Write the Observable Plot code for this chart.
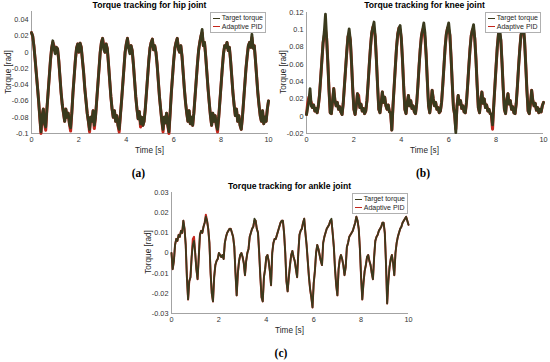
<!DOCTYPE html>
<html><head><meta charset="utf-8">
<script src="https://cdn.jsdelivr.net/npm/d3@7"></script>
<script src="https://cdn.jsdelivr.net/npm/@observablehq/plot@0.6"></script>
<style>
body{margin:0;background:#fff;}
#root{position:relative;width:550px;height:362px;overflow:hidden;font-family:"Liberation Sans",Arial,sans-serif;color:#262626;background:#fff;}
.panel{position:absolute;}
.title{position:absolute;font-weight:bold;font-size:8.6px;white-space:nowrap;transform:translate(-50%,-50%);color:#000;}
.xlab{position:absolute;font-size:8.2px;white-space:nowrap;transform:translate(-50%,-50%);}
.ylab{position:absolute;font-size:8.2px;white-space:nowrap;transform:translate(-50%,-50%) rotate(-90deg);}
.cap{position:absolute;font-family:"Liberation Serif","Times New Roman",serif;font-weight:bold;font-size:11.5px;transform:translate(-50%,-50%);color:#000;}
.legend{position:absolute;border:0.8px solid #b0b0b0;background:#fff;font-size:7px;line-height:8.6px;padding:1px 2px;white-space:nowrap;}
.legend .sw{display:inline-block;width:7px;border-top:1.3px solid;vertical-align:middle;margin-right:1.5px;}
</style></head>
<body>
<div id="root"></div>
<script>
// ---- data ----
const time = [
0,0.05,0.1,0.15,0.2,0.25,0.3,0.35,0.4,0.45,0.5,0.55,0.6,0.65,0.7,0.75,0.8,0.85,0.9,0.95,
1,1.05,1.1,1.15,1.2,1.25,1.3,1.35,1.4,1.45,1.5,1.55,1.6,1.65,1.7,1.75,1.8,1.85,1.9,1.95,
2,2.05,2.1,2.15,2.2,2.25,2.3,2.35,2.4,2.45,2.5,2.55,2.6,2.65,2.7,2.75,2.8,2.85,2.9,2.95,
3,3.05,3.1,3.15,3.2,3.25,3.3,3.35,3.4,3.45,3.5,3.55,3.6,3.65,3.7,3.75,3.8,3.85,3.9,3.95,
4,4.05,4.1,4.15,4.2,4.25,4.3,4.35,4.4,4.45,4.5,4.55,4.6,4.65,4.7,4.75,4.8,4.85,4.9,4.95,
5,5.05,5.1,5.15,5.2,5.25,5.3,5.35,5.4,5.45,5.5,5.55,5.6,5.65,5.7,5.75,5.8,5.85,5.9,5.95,
6,6.05,6.1,6.15,6.2,6.25,6.3,6.35,6.4,6.45,6.5,6.55,6.6,6.65,6.7,6.75,6.8,6.85,6.9,6.95,
7,7.05,7.1,7.15,7.2,7.25,7.3,7.35,7.4,7.45,7.5,7.55,7.6,7.65,7.7,7.75,7.8,7.85,7.9,7.95,
8,8.05,8.1,8.15,8.2,8.25,8.3,8.35,8.4,8.45,8.5,8.55,8.6,8.65,8.7,8.75,8.8,8.85,8.9,8.95,
9,9.05,9.1,9.15,9.2,9.25,9.3,9.35,9.4,9.45,9.5,9.55,9.6,9.65,9.7,9.75,9.8,9.85,9.9,9.95,
10];

const hipTarget = [
0.024,0.02,0.008,-0.008,-0.025,-0.042,-0.06,-0.08,-0.098,-0.078,-0.07,-0.088,-0.092,-0.07,-0.05,-0.03,-0.01,0.005,0.014,0.004,
-0.002,0.006,0.004,-0.01,-0.03,-0.05,-0.065,-0.075,-0.085,-0.07,-0.08,-0.075,-0.088,-0.093,-0.075,-0.05,-0.03,-0.01,0.005,0.01,
0.0,0.011,0.006,-0.01,-0.025,-0.045,-0.06,-0.075,-0.085,-0.095,-0.08,-0.085,-0.072,-0.09,-0.08,-0.06,-0.04,-0.02,0.0,0.012,
0.017,0.003,0.0,0.01,0.004,-0.015,-0.035,-0.055,-0.07,-0.08,-0.072,-0.085,-0.078,-0.09,-0.095,-0.078,-0.06,-0.04,-0.02,0.0,
0.01,0.017,0.005,-0.002,0.008,0.002,-0.015,-0.035,-0.055,-0.07,-0.082,-0.073,-0.088,-0.08,-0.09,-0.085,-0.07,-0.05,-0.03,-0.01,
0.005,0.012,0.016,0.003,0.008,0.0,-0.015,-0.035,-0.055,-0.07,-0.085,-0.095,-0.08,-0.087,-0.075,-0.09,-0.098,-0.075,-0.05,-0.03,
-0.01,0.005,0.012,0.017,0.004,0.0,0.008,-0.005,-0.025,-0.045,-0.062,-0.075,-0.085,-0.072,-0.088,-0.08,-0.09,-0.075,-0.055,-0.035,
-0.015,0.002,0.012,0.02,0.028,0.008,0.012,-0.005,-0.025,-0.045,-0.062,-0.078,-0.09,-0.075,-0.085,-0.078,-0.09,-0.095,-0.08,-0.06,
-0.04,-0.02,-0.002,0.008,0.006,0.012,0.002,0.006,-0.01,-0.03,-0.05,-0.065,-0.078,-0.07,-0.085,-0.078,-0.09,-0.095,-0.08,-0.06,
-0.04,-0.02,-0.005,0.008,0.012,0.006,0.022,0.005,0.008,-0.01,-0.03,-0.05,-0.065,-0.078,-0.085,-0.072,-0.088,-0.08,-0.085,-0.07,
-0.06];
const hipPID = [
0.024,0.02,0.008,-0.008,-0.025,-0.042,-0.06,-0.08,-0.1,-0.078,-0.07,-0.088,-0.096,-0.07,-0.05,-0.03,-0.01,0.005,0.012,0.008,
0.002,0.006,0.004,-0.01,-0.03,-0.05,-0.065,-0.075,-0.085,-0.07,-0.08,-0.075,-0.088,-0.097,-0.075,-0.05,-0.03,-0.01,0.005,0.01,
0.0,0.011,0.006,-0.01,-0.025,-0.045,-0.06,-0.075,-0.085,-0.098,-0.08,-0.085,-0.072,-0.094,-0.08,-0.06,-0.04,-0.02,0.0,0.012,
0.017,0.008,0.0,0.01,0.004,-0.015,-0.035,-0.055,-0.07,-0.08,-0.072,-0.085,-0.078,-0.09,-0.098,-0.078,-0.06,-0.04,-0.02,0.0,
0.01,0.017,0.005,0.004,0.008,0.002,-0.015,-0.035,-0.055,-0.07,-0.082,-0.073,-0.092,-0.08,-0.09,-0.085,-0.07,-0.05,-0.03,-0.01,
0.005,0.012,0.016,0.003,0.008,0.0,-0.015,-0.035,-0.055,-0.07,-0.085,-0.098,-0.08,-0.087,-0.075,-0.09,-0.1,-0.075,-0.05,-0.03,
-0.01,0.005,0.012,0.017,0.004,0.0,0.008,-0.005,-0.025,-0.045,-0.062,-0.075,-0.085,-0.072,-0.088,-0.08,-0.09,-0.075,-0.055,-0.035,
-0.015,0.002,0.012,0.02,0.024,0.008,0.012,-0.005,-0.025,-0.045,-0.062,-0.078,-0.09,-0.075,-0.085,-0.078,-0.09,-0.098,-0.08,-0.06,
-0.04,-0.02,-0.002,0.008,0.006,0.012,0.002,0.006,-0.01,-0.03,-0.05,-0.065,-0.078,-0.07,-0.085,-0.078,-0.09,-0.095,-0.08,-0.06,
-0.04,-0.02,-0.005,0.008,0.012,0.006,0.018,0.005,0.008,-0.01,-0.03,-0.05,-0.065,-0.078,-0.085,-0.072,-0.088,-0.08,-0.085,-0.07,
-0.06];

const kneeTarget = [
0.002,0.01,0.018,0.032,0.012,0.01,0.013,0.006,0.009,0.004,0.012,0.025,0.045,0.065,0.085,0.098,0.118,0.09,0.062,0.03,
0.004,0.003,0.018,0.032,0.018,0.012,0.016,0.008,0.011,0.005,0.002,0.015,0.035,0.055,0.075,0.092,0.101,0.088,0.062,0.032,
0.008,0.002,0.012,0.026,0.02,0.01,0.014,0.006,0.009,0.003,0.006,0.018,0.038,0.06,0.08,0.096,0.103,0.109,0.092,0.065,
0.035,0.008,0.004,0.015,0.028,0.016,0.022,0.012,0.008,0.013,0.005,0.004,-0.016,0.012,0.035,0.058,0.08,0.095,0.102,0.105,
0.09,0.065,0.035,0.008,0.003,0.016,0.024,0.012,0.018,0.009,0.012,0.005,0.003,0.015,0.035,0.058,0.078,0.093,0.1,0.108,
0.096,0.07,0.04,0.012,0.004,0.015,0.03,0.02,0.012,0.016,0.008,0.01,0.004,0.006,0.016,0.036,0.058,0.08,0.095,0.102,
0.108,0.094,0.068,0.038,0.01,0.002,-0.019,0.012,0.024,0.014,0.018,0.009,0.012,0.005,0.004,0.016,0.036,0.058,0.078,0.093,
0.1,0.106,0.09,0.066,0.036,0.01,0.004,0.018,0.028,0.015,0.02,0.01,0.013,0.006,0.008,0.003,0.002,-0.01,0.012,0.035,
0.058,0.08,0.095,0.102,0.088,0.062,0.032,0.008,0.003,0.018,0.026,0.014,0.018,0.008,0.011,0.004,0.003,0.015,0.035,0.058,
0.078,0.094,0.1,0.106,0.088,0.06,0.03,0.006,0.003,0.015,0.03,0.018,0.012,0.015,0.007,0.01,0.004,0.008,0.005,0.012,
0.016];
const kneePID = [
0.002,0.015,0.022,0.02,0.016,0.01,0.013,0.006,0.009,0.004,0.012,0.025,0.045,0.065,0.085,0.093,0.1,0.09,0.062,0.03,
0.004,0.003,0.018,0.032,0.018,0.012,0.016,0.008,0.011,0.005,0.002,0.015,0.035,0.055,0.075,0.092,0.095,0.088,0.062,0.032,
0.008,0.002,0.012,0.026,0.024,0.01,0.014,0.006,0.009,0.003,0.006,0.018,0.038,0.06,0.08,0.096,0.103,0.1,0.092,0.065,
0.035,0.008,0.004,0.015,0.028,0.016,0.022,0.012,0.008,0.013,0.005,0.004,-0.016,0.012,0.035,0.058,0.08,0.095,0.102,0.1,
0.09,0.065,0.035,0.008,0.003,0.016,0.024,0.012,0.018,0.009,0.012,0.005,0.003,0.015,0.035,0.058,0.078,0.093,0.1,0.1,
0.09,0.07,0.04,0.012,0.004,0.015,0.03,0.02,0.012,0.016,0.008,0.01,0.004,0.006,0.016,0.036,0.058,0.08,0.095,0.102,
0.1,0.094,0.068,0.038,0.01,0.002,-0.015,0.012,0.024,0.014,0.018,0.009,0.012,0.005,0.004,0.016,0.036,0.058,0.078,0.093,
0.1,0.1,0.09,0.066,0.036,0.01,0.004,0.018,0.028,0.015,0.02,0.01,0.013,0.006,0.008,0.003,0.002,-0.015,0.012,0.035,
0.058,0.08,0.095,0.095,0.088,0.062,0.032,0.008,0.003,0.018,0.026,0.014,0.018,0.008,0.011,0.004,0.003,0.015,0.035,0.058,
0.078,0.094,0.1,0.1,0.088,0.06,0.03,0.006,0.003,0.015,0.03,0.018,0.012,0.015,0.007,0.01,0.004,0.008,0.005,0.012,
0.016];

const ankleTarget = [
0.0,-0.008,-0.004,0.004,0.007,0.006,0.009,0.008,0.011,0.01,0.016,0.012,0.004,-0.012,-0.023,-0.014,-0.012,-0.002,0.004,0.006,
0.0,-0.008,-0.013,-0.002,0.009,0.011,0.01,0.013,0.015,0.018,0.016,0.012,0.005,-0.01,-0.02,-0.024,-0.012,-0.006,-0.004,-0.003,
0.0,-0.001,-0.002,-0.001,-0.003,0.005,0.008,0.01,0.011,0.012,0.012,0.01,0.008,0.003,-0.01,-0.021,-0.01,-0.004,-0.001,0.0,
-0.002,-0.005,-0.011,-0.004,0.0,0.002,0.008,0.01,0.012,0.013,0.017,0.016,0.012,0.01,0.0,-0.012,-0.022,-0.024,-0.012,-0.008,
-0.002,-0.001,-0.004,-0.009,-0.016,0.0,0.005,0.007,0.007,0.009,0.011,0.013,0.015,0.016,0.016,0.01,0.0,-0.014,-0.019,-0.012,
-0.006,-0.001,0.001,-0.002,-0.004,-0.008,-0.012,0.0,0.009,0.011,0.012,0.015,0.017,0.01,0.004,-0.004,-0.012,-0.018,-0.022,-0.027,
-0.015,-0.009,0.0,0.004,0.002,-0.001,-0.004,-0.006,0.005,0.008,0.01,0.012,0.013,0.014,0.016,0.017,0.01,0.003,-0.008,-0.016,
-0.021,-0.008,-0.003,-0.001,-0.003,-0.006,-0.011,-0.007,0.003,0.005,0.008,0.009,0.01,0.011,0.013,0.015,0.018,0.016,0.012,0.002,
-0.012,-0.023,-0.015,-0.009,-0.006,-0.002,-0.001,-0.004,-0.006,-0.01,-0.013,-0.002,0.006,0.008,0.009,0.011,0.012,0.013,0.015,0.015,
0.01,-0.005,-0.025,-0.014,-0.007,-0.003,-0.001,-0.005,-0.011,0.0,0.005,0.008,0.01,0.012,0.013,0.015,0.016,0.017,0.018,0.016,
0.014];
const anklePID = [
0.0,-0.008,-0.004,0.004,0.007,0.006,0.009,0.008,0.011,0.01,0.016,0.012,0.004,-0.012,-0.023,-0.014,-0.012,-0.002,0.007,0.008,
0.0,-0.008,-0.013,-0.002,0.009,0.011,0.01,0.013,0.015,0.019,0.016,0.012,0.005,-0.01,-0.02,-0.024,-0.012,-0.006,-0.004,-0.003,
0.0,-0.001,-0.002,-0.001,-0.003,0.005,0.008,0.01,0.011,0.012,0.012,0.01,0.008,0.003,-0.01,-0.021,-0.01,-0.004,-0.001,0.0,
-0.002,-0.005,-0.011,-0.004,0.0,0.002,0.008,0.01,0.012,0.013,0.016,0.016,0.012,0.01,0.0,-0.012,-0.022,-0.024,-0.012,-0.008,
-0.002,-0.001,-0.004,-0.009,-0.016,0.0,0.005,0.007,0.007,0.009,0.011,0.013,0.015,0.016,0.016,0.01,0.0,-0.014,-0.019,-0.012,
-0.006,-0.001,0.001,-0.002,-0.004,-0.008,-0.012,0.0,0.009,0.011,0.012,0.015,0.017,0.01,0.004,-0.004,-0.012,-0.018,-0.022,-0.027,
-0.015,-0.009,0.0,0.004,0.002,-0.001,-0.004,-0.006,0.005,0.008,0.01,0.012,0.013,0.014,0.016,0.016,0.01,0.003,-0.008,-0.016,
-0.021,-0.008,-0.003,-0.001,-0.003,-0.006,-0.011,-0.007,0.003,0.005,0.008,0.009,0.01,0.011,0.013,0.015,0.018,0.016,0.012,0.002,
-0.012,-0.023,-0.015,-0.009,-0.006,-0.002,-0.001,-0.004,-0.006,-0.01,-0.013,-0.002,0.006,0.008,0.009,0.011,0.012,0.013,0.015,0.015,
0.01,-0.005,-0.025,-0.014,-0.007,-0.003,-0.001,-0.005,-0.011,0.0,0.005,0.008,0.01,0.012,0.013,0.015,0.016,0.017,0.018,0.016,
0.014];

const xTicks = [0, 2, 4, 6, 8, 10];
const hipTicks = [-0.1, -0.08, -0.06, -0.04, -0.02, 0, 0.02, 0.04];
const kneeTicks = [-0.02, 0, 0.02, 0.04, 0.06, 0.08, 0.1, 0.12];
const ankleTicks = [-0.03, -0.02, -0.01, 0, 0.01, 0.02, 0.03];
const hipDomain = [-0.1, 0.05];
const kneeDomain = [-0.02, 0.12];
const ankleDomain = [-0.03, 0.03];
const timeDomain = [0, 10];
const titles = ["Torque tracking for hip joint", "Torque tracking for knee joint", "Torque tracking for ankle joint"];
const seriesNames = ["Target torque", "Adaptive PID"];
const captions = ["(a)", "(b)", "(c)"];
const xLabel = "Time [s]";
const yLabel = "Torque [rad]";

// ---- drawing ----
const targetColor = "#3a3a1d";
const pidColor = "#c4261c";
const fmt = d => String(Math.round(d * 1000) / 1000);
const root = document.getElementById("root");

function panel(target, pid, domain, ticks, sw, mt) {
  const rows = time.map((t, i) => ({t, target: target[i], pid: pid[i]}));
  return Plot.plot({
    width: 275, height: 157,
    marginLeft: 31, marginRight: 7, marginTop: mt, marginBottom: 24,
    style: {fontSize: "7.3px", fontFamily: "'Liberation Sans', Arial, sans-serif", color: "#333", background: "transparent", overflow: "visible"},
    x: {domain: timeDomain, ticks: xTicks, tickSize: 0, tickPadding: 3, label: null, tickFormat: fmt},
    y: {domain, ticks, tickSize: 0, tickPadding: 3, label: null, tickFormat: fmt},
    marks: [
      Plot.ruleX([timeDomain[0]], {stroke: "#8c8c8c", strokeWidth: 0.8}),
      Plot.ruleY([domain[0]], {stroke: "#8c8c8c", strokeWidth: 0.8}),
      Plot.line(rows, {x: "t", y: "pid", stroke: pidColor, strokeWidth: sw + 0.2}),
      Plot.line(rows, {x: "t", y: "target", stroke: targetColor, strokeWidth: sw})
    ]
  });
}

function place(el, left, top) {
  const d = document.createElement("div");
  d.className = "panel";
  d.style.left = left + "px"; d.style.top = top + "px";
  d.appendChild(el);
  root.appendChild(d);
}
function label(cls, text, x, y) {
  const d = document.createElement("div");
  d.className = cls; d.textContent = text;
  d.style.left = x + "px"; d.style.top = y + "px";
  root.appendChild(d);
}
function legend(right, top) {
  const d = document.createElement("div");
  d.className = "legend";
  d.style.right = right + "px"; d.style.top = top + "px";
  [[seriesNames[0], targetColor], [seriesNames[1], pidColor]].forEach(([n, c]) => {
    const r = document.createElement("div");
    const s = document.createElement("span"); s.className = "sw"; s.style.borderTopColor = c;
    r.appendChild(s); r.appendChild(document.createTextNode(n));
    d.appendChild(r);
  });
  root.appendChild(d);
}

place(panel(hipTarget, hipPID, hipDomain, hipTicks, 2.8, 11), 0, 0);
place(panel(kneeTarget, kneePID, kneeDomain, kneeTicks, 2.8, 12), 275, 0);
place(panel(ankleTarget, anklePID, ankleDomain, ankleTicks, 1.8, 12), 140, 180);

label("title", titles[0], 149.5, 5);
label("title", titles[1], 424.5, 5);
label("title", titles[2], 289.5, 186);
label("xlab", xLabel, 149.5, 150);
label("xlab", xLabel, 424.5, 150);
label("xlab", xLabel, 289.5, 330);
label("ylab", yLabel, 8, 72);
label("ylab", yLabel, 283, 72);
label("ylab", yLabel, 148, 252);
label("cap", captions[0], 138.5, 173);
label("cap", captions[1], 423, 173);
label("cap", captions[2], 281, 353);
legend(284, 12);
legend(9, 12);
legend(142, 193);
</script>
</body></html>
